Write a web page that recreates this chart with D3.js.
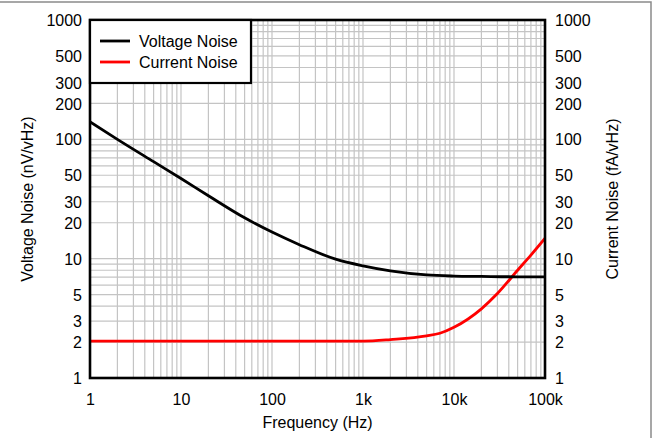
<!DOCTYPE html>
<html><head><meta charset="utf-8">
<script src="https://cdn.jsdelivr.net/npm/d3@7"></script>
<style>html,body{margin:0;padding:0;background:#fff;}svg{display:block;font-family:"Liberation Sans",Arial,sans-serif;}</style>
</head><body><svg id="c" width="656" height="438"></svg>
<script>
const freq = [1,2,5,10,20,50,100,200,500,1000,2000,5000,10000,20000,50000,100000];
const voltageNoise = [140,100,65,47,33.7,22,16.7,13.1,9.9,8.7,7.9,7.3,7.15,7.1,7.05,7.05];
const currentFreq = [1,10,100,1000,2000,5000,7000,10000,20000,30000,50000,70000,100000];
const currentNoise = [2.04,2.04,2.04,2.04,2.1,2.25,2.37,2.66,3.8,5.1,8.0,10.7,14.8];
const xTicks = [1,10,100,1000,10000,100000];
const xTickLabels = ["1","10","100","1k","10k","100k"];
const yTicks = [1,2,3,5,10,20,30,50,100,200,300,500,1000];
const seriesNames = ["Voltage Noise","Current Noise"];
const seriesColors = ["#000000","#ff0000"];

const svg = d3.select("#c");
const L=90,R=545,T=20,B=378;
const x = d3.scaleLog().domain([1,100000]).range([L,R]);
const y = d3.scaleLog().domain([1,1000]).range([B,T]);

// outer border
svg.append("rect").attr("x",-1).attr("y",2).attr("width",652).attr("height",440)
  .attr("fill","none").attr("stroke","#8a8a8a").attr("stroke-width",1.5);

// grid
const g = svg.append("g");
const xGrid=[],yGrid=[];
for(let d=1; d<100000; d*=10) for(let k=1;k<10;k++) xGrid.push(d*k);
for(let d=1; d<1000; d*=10) for(let k=1;k<10;k++) yGrid.push(d*k);
g.selectAll(".vx").data(xGrid.filter(v=>v>1)).enter().append("line")
  .attr("x1",d=>x(d)).attr("x2",d=>x(d)).attr("y1",T).attr("y2",B)
  .attr("stroke","#c4c4c4").attr("stroke-width",1.2);
g.selectAll(".hy").data(yGrid.filter(v=>v>1)).enter().append("line")
  .attr("y1",d=>y(d)).attr("y2",d=>y(d)).attr("x1",L).attr("x2",R)
  .attr("stroke","#c4c4c4").attr("stroke-width",1.2);

// curves
svg.append("clipPath").attr("id","cp").append("rect").attr("x",L).attr("y",T).attr("width",R-L).attr("height",B-T);
const line = d3.line().x(d=>x(d[0])).y(d=>y(d[1])).curve(d3.curveMonotoneX);
svg.append("path").datum(currentFreq.map((f,i)=>[f,currentNoise[i]])).attr("d",line)
  .attr("fill","none").attr("stroke",seriesColors[1]).attr("stroke-width",2.8).attr("clip-path","url(#cp)");
svg.append("path").datum(freq.map((f,i)=>[f,voltageNoise[i]])).attr("d",line)
  .attr("fill","none").attr("stroke",seriesColors[0]).attr("stroke-width",2.8).attr("clip-path","url(#cp)");

// frame
svg.append("rect").attr("x",L).attr("y",T).attr("width",R-L).attr("height",B-T)
  .attr("fill","none").attr("stroke","#000").attr("stroke-width",2.6);

// axes (labels only)
const fmt = d3.format("d");
const ax = svg.append("g").attr("transform",`translate(0,${B})`)
  .call(d3.axisBottom(x).tickValues(xTicks).tickFormat((d,i)=>xTickLabels[i]).tickSize(0).tickPadding(16));
const ayl = svg.append("g").attr("transform",`translate(${L},0)`)
  .call(d3.axisLeft(y).tickValues(yTicks).tickFormat(fmt).tickSize(0).tickPadding(8));
const ayr = svg.append("g").attr("transform",`translate(${R},0)`)
  .call(d3.axisRight(y).tickValues(yTicks).tickFormat(fmt).tickSize(0).tickPadding(10));
[ax,ayl,ayr].forEach(a=>{a.select(".domain").remove();
  a.selectAll("text").attr("font-size",16).attr("fill","#000").attr("font-family","Liberation Sans, Arial, sans-serif");});
ayl.selectAll("text").attr("dy","0.35em");
ayr.selectAll("text").attr("dy","0.35em");

// titles
svg.append("text").attr("x",(L+R)/2).attr("y",428).attr("text-anchor","middle").attr("font-size",16).text("Frequency (Hz)");
svg.append("text").attr("transform",`translate(33,${(T+B)/2}) rotate(-90)`).attr("text-anchor","middle").attr("font-size",16).text("Voltage Noise (nV/vHz)");
svg.append("text").attr("transform",`translate(618,${(T+B)/2}) rotate(-90)`).attr("text-anchor","middle").attr("font-size",16).text("Current Noise (fA/vHz)");

// legend
svg.append("rect").attr("x",L).attr("y",T).attr("width",161).attr("height",63)
  .attr("fill","#fff").attr("stroke","#000").attr("stroke-width",2.2);
seriesNames.forEach((n,i)=>{
  const yy = 41 + i*21;
  svg.append("line").attr("x1",100).attr("x2",130).attr("y1",yy).attr("y2",yy).attr("stroke",seriesColors[i]).attr("stroke-width",2.8);
  svg.append("text").attr("x",139).attr("y",yy).attr("dy","0.35em").attr("font-size",16).text(n);
});
</script></body></html>
